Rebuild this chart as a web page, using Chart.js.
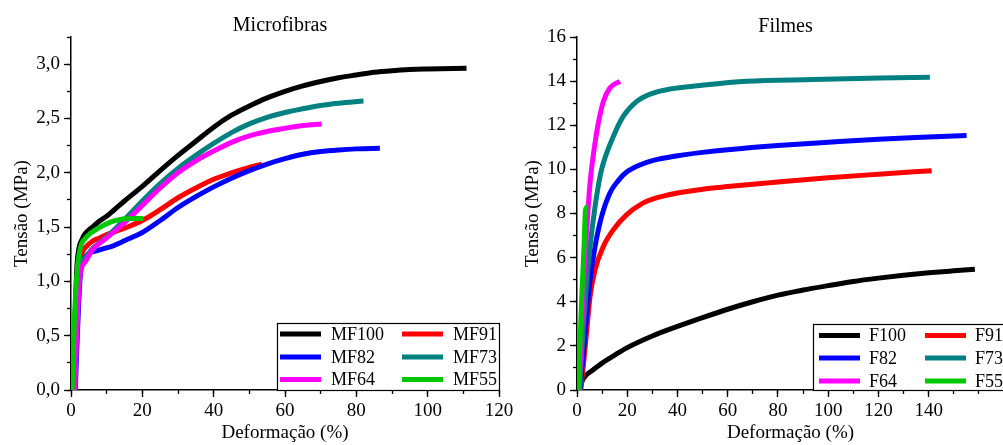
<!DOCTYPE html>
<html lang="pt">
<head>
<meta charset="UTF-8">
<title>Microfibras e Filmes</title>
<script src="https://cdn.jsdelivr.net/npm/chart.js@4.4.1/dist/chart.umd.min.js"></script>
<style>
  html, body { margin: 0; padding: 0; background: #fff; overflow: hidden; width: 1003px; height: 445px; }
  canvas { position: absolute; top: 0; }
  #c1 { left: 0; }
  #c2 { left: 500px; }
</style>
</head>
<body>
<canvas id="c1" width="530" height="445"></canvas>
<canvas id="c2" width="540" height="445"></canvas>
<script>
// ---- data ----
const colors = ['#000000', '#ff0000', '#0000ff', '#008080', '#ff00ff', '#00c800'];

// Microfibras
const mfLabels = ['MF100', 'MF91', 'MF82', 'MF73', 'MF64', 'MF55'];
const mf100X = [0.6, 1.1, 1.6, 2.2, 3, 4, 6, 8, 10, 12, 15, 20, 25, 30, 35, 40, 45, 50, 55, 60, 65, 70, 75, 80, 85, 90, 95, 100, 110.9];
const mf100Y = [0, 0.6, 1.1, 1.3, 1.38, 1.44, 1.5, 1.555, 1.6, 1.655, 1.74, 1.875, 2.02, 2.16, 2.29, 2.42, 2.53, 2.615, 2.69, 2.75, 2.80, 2.84, 2.875, 2.90, 2.925, 2.94, 2.95, 2.955, 2.962];
const mf91X = [0.9, 1.5, 2.2, 3, 4, 6, 8, 10, 15, 20, 25, 30, 35, 40, 45, 50, 53.5];
const mf91Y = [0, 0.6, 1.1, 1.25, 1.31, 1.37, 1.40, 1.43, 1.49, 1.56, 1.66, 1.77, 1.86, 1.94, 2.00, 2.05, 2.08];
const mf82X = [1.2, 1.9, 2.6, 3.6, 5, 8, 12, 16, 20, 25, 30, 35, 40, 45, 50, 55, 60, 65, 70, 75, 80, 86.6];
const mf82Y = [0, 0.6, 1.05, 1.2, 1.255, 1.29, 1.33, 1.39, 1.45, 1.56, 1.68, 1.78, 1.87, 1.95, 2.02, 2.08, 2.13, 2.17, 2.195, 2.21, 2.22, 2.225];
const mf73X = [1.0, 1.7, 2.5, 4, 6, 10, 15, 20, 25, 30, 35, 40, 45, 50, 55, 60, 65, 70, 75, 82];
const mf73Y = [0, 0.6, 1.1, 1.22, 1.3, 1.41, 1.57, 1.74, 1.90, 2.04, 2.16, 2.27, 2.37, 2.45, 2.51, 2.555, 2.59, 2.62, 2.64, 2.66];
const mf64X = [1.0, 1.7, 2.5, 4, 6, 10, 15, 20, 25, 30, 35, 40, 45, 50, 55, 60, 65, 70.3];
const mf64Y = [0, 0.6, 1.05, 1.18, 1.29, 1.40, 1.54, 1.70, 1.86, 2.00, 2.11, 2.20, 2.28, 2.34, 2.38, 2.41, 2.435, 2.45];
const mf55X = [0.3, 0.9, 1.6, 2.5, 4.4, 7.7, 12.3, 17, 20.3];
const mf55Y = [0, 0.6, 1.05, 1.29, 1.41, 1.49, 1.56, 1.58, 1.58];

// Filmes
const fLabels = ['F100', 'F91', 'F82', 'F73', 'F64', 'F55'];
const f100X = [1.2, 2, 3.2, 6.5, 10, 15, 20, 30, 40, 50, 60, 70, 80, 90, 100, 110, 120, 130, 140, 150, 158.4];
const f100Y = [0, 0.4, 0.62, 0.92, 1.22, 1.58, 1.92, 2.45, 2.88, 3.28, 3.66, 4.0, 4.3, 4.53, 4.73, 4.92, 5.07, 5.2, 5.31, 5.4, 5.47];
const f91X = [1.5, 2.5, 3.9, 5.2, 7.2, 10.5, 14.5, 19.8, 26.4, 30, 40, 50, 60, 70, 80, 100, 120, 141.2];
const f91Y = [0, 1.07, 2.73, 4.24, 5.45, 6.51, 7.27, 7.95, 8.48, 8.65, 8.93, 9.1, 9.22, 9.33, 9.43, 9.62, 9.78, 9.94];
const f82X = [1.2, 2.8, 3.9, 5.2, 7.2, 9.8, 13.1, 16.5, 20, 25, 30, 40, 50, 60, 80, 100, 120, 140, 155.1];
const f82Y = [0, 2.0, 3.49, 5.0, 6.51, 7.87, 8.93, 9.5, 9.9, 10.2, 10.4, 10.62, 10.77, 10.89, 11.08, 11.23, 11.37, 11.47, 11.54];
const f73X = [1.0, 2.5, 3.9, 5.2, 7.2, 9.2, 10.5, 14.5, 18.4, 23.8, 30.4, 37, 49, 67.5, 94, 120.6, 140.5];
const f73Y = [0, 2.8, 5.0, 6.51, 8.32, 9.7, 10.29, 11.5, 12.4, 13.08, 13.46, 13.64, 13.8, 13.99, 14.07, 14.14, 14.17];
const f64X = [0.8, 2.0, 3.2, 4.3, 5.2, 6.8, 8.5, 10.5, 13.1, 17.1];
const f64Y = [0, 3.0, 6.0, 8.0, 9.38, 10.9, 12.1, 13.08, 13.69, 13.99];
const f55X = [0.5, 1.9, 2.8, 3.4, 4.3];
const f55Y = [0, 4.24, 6.51, 8.17, 8.32];

const mfXTicks = { max: 120, major: 20, minor: 10 };
const mfYTicks = { max: 3.25, major: 0.5, minor: 0.25 };
const fXTicks = { max: 170, major: 20, minor: 10 };
const fYTicks = { max: 16, major: 2, minor: 1 };

// ---- chart setup ----
const serif = "'Liberation Serif', 'Times New Roman', serif";
Chart.defaults.font.family = serif;
Chart.defaults.color = '#000';

function isMult(v, step) {
    const r = v / step;
    return Math.abs(r - Math.round(r)) < 1e-6;
}

function makeSets(labels, xs, ys) {
    return labels.map((lab, i) => ({
        label: lab,
        data: xs[i].map((x, j) => ({ x: x, y: ys[i][j] })),
        borderColor: colors[i],
        backgroundColor: colors[i],
        borderWidth: 5,
        pointRadius: 0,
        showLine: true,
        cubicInterpolationMode: 'monotone',
        order: labels.length - i
    }));
}

function makeScales(xt, yt, yAxisW, yTitlePad, yFmt) {
    return {
        x: {
            type: 'linear', position: 'bottom', weight: 1, min: 0, max: xt.max,
            ticks: { stepSize: xt.major, padding: 3, font: { size: 19 }, maxRotation: 0, autoSkip: false,
                     callback: v => isMult(v, xt.major) ? v : '' },
            grid: { drawOnChartArea: false, tickLength: 7, tickWidth: 1.3,
                    tickColor: c => (c.tick && isMult(c.tick.value, xt.major)) ? '#000' : 'rgba(0,0,0,0)' },
            border: { color: '#000', width: 1.5 },
            title: { display: true, text: 'Deformação (%)', font: { size: 19 }, padding: { top: 0, bottom: 1 } },
            afterFit: s => { s.height = 55; }
        },
        xMinor: {
            type: 'linear', position: 'bottom', weight: 0, min: 0, max: xt.max,
            ticks: { stepSize: xt.minor, display: false, autoSkip: false },
            grid: { drawOnChartArea: false, tickLength: 4, tickWidth: 1.3, tickColor: '#000' },
            border: { display: false },
            afterFit: s => { s.height = 0; }
        },
        y: {
            type: 'linear', position: 'left', weight: 1, min: 0, max: yt.max,
            ticks: { stepSize: yt.major, padding: 4, font: { size: 19 }, autoSkip: false,
                     callback: v => isMult(v, yt.major) ? yFmt(v) : '' },
            grid: { drawOnChartArea: false, tickLength: 7, tickWidth: 1.3,
                    tickColor: c => (c.tick && isMult(c.tick.value, yt.major)) ? '#000' : 'rgba(0,0,0,0)' },
            border: { color: '#000', width: 1.5 },
            title: { display: true, text: 'Tensão (MPa)', font: { size: 19 }, padding: { top: yTitlePad, bottom: 0 } },
            afterFit: s => { s.width = yAxisW; }
        },
        yMinor: {
            type: 'linear', position: 'left', weight: 0, min: 0, max: yt.max,
            ticks: { stepSize: yt.minor, display: false, autoSkip: false },
            grid: { drawOnChartArea: false, tickLength: 4, tickWidth: 1.3, tickColor: '#000' },
            border: { display: false },
            afterFit: s => { s.width = 0; }
        }
    };
}

// panel title and the boxed legend inside the plot
const decor = {
    id: 'decor',
    afterDraw(chart, args, opts) {
        const ctx = chart.ctx;
        ctx.save();
        ctx.fillStyle = '#000';
        ctx.font = '20px ' + serif;
        ctx.textAlign = 'center';
        ctx.textBaseline = 'alphabetic';
        ctx.fillText(opts.title, opts.titleX, opts.titleY);

        const L = opts.legend;
        ctx.fillStyle = '#fff';
        ctx.fillRect(L.left, L.top, L.right - L.left, L.bottom - L.top);
        ctx.strokeStyle = '#000';
        ctx.lineWidth = 1.2;
        ctx.strokeRect(L.left + 0.5, L.top + 0.5, L.right - L.left, L.bottom - L.top);
        ctx.font = '18px ' + serif;
        ctx.textAlign = 'left';
        ctx.textBaseline = 'middle';
        chart.data.datasets.forEach((ds, i) => {
            const x0 = L.cols[i % 2];
            const y0 = L.rows[Math.floor(i / 2)];
            ctx.strokeStyle = ds.borderColor;
            ctx.lineWidth = 5;
            ctx.beginPath();
            ctx.moveTo(x0, y0);
            ctx.lineTo(x0 + L.sample, y0);
            ctx.stroke();
            ctx.fillStyle = '#000';
            ctx.fillText(ds.label, x0 + L.sample + L.gap, y0 + 1);
        });
        ctx.restore();
    }
};

const fmtComma = v => v.toFixed(1).replace('.', ',');
const fmtInt = v => String(v);

new Chart(document.getElementById('c1'), {
    type: 'scatter',
    data: { datasets: makeSets(mfLabels, [mf100X, mf91X, mf82X, mf73X, mf64X, mf55X], [mf100Y, mf91Y, mf82Y, mf73Y, mf64Y, mf55Y]) },
    options: {
        responsive: false,
        animation: false,
        layout: { padding: { top: 37, right: 31, bottom: 0, left: 0 } },
        plugins: {
            legend: { display: false },
            tooltip: { enabled: false },
            decor: {
                title: 'Microfibras', titleX: 280, titleY: 31,
                legend: { left: 277, top: 323, right: 499, bottom: 390, cols: [280, 402], rows: [334, 357, 379.5], sample: 41, gap: 10 }
            }
        },
        scales: makeScales(mfXTicks, mfYTicks, 71, 10.6, fmtComma)
    },
    plugins: [decor]
});

new Chart(document.getElementById('c2'), {
    type: 'scatter',
    data: { datasets: makeSets(fLabels, [f100X, f91X, f82X, f73X, f64X, f55X], [f100Y, f91Y, f82Y, f73Y, f64Y, f55Y]) },
    options: {
        responsive: false,
        animation: false,
        layout: { padding: { top: 37, right: 36, bottom: 0, left: 0 } },
        plugins: {
            legend: { display: false },
            tooltip: { enabled: false },
            decor: {
                title: 'Filmes', titleX: 285.5, titleY: 32,
                legend: { left: 313, top: 324, right: 504, bottom: 390, cols: [319, 425], rows: [335.5, 358, 381], sample: 41, gap: 9 }
            }
        },
        scales: makeScales(fXTicks, fYTicks, 77, 21.6, fmtInt)
    },
    plugins: [decor]
});
</script>
</body>
</html>
